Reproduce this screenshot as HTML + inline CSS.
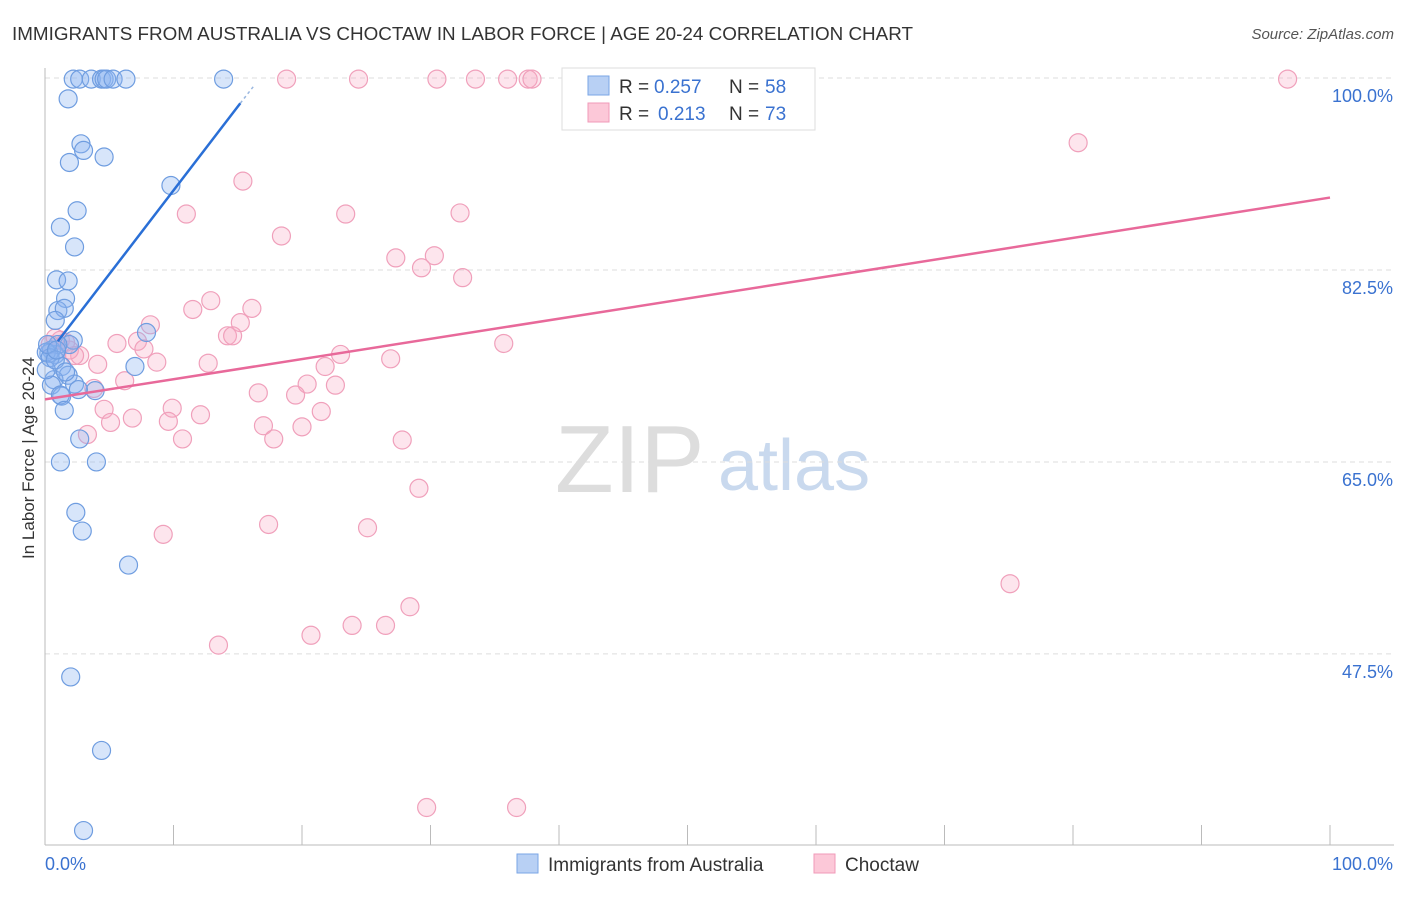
<!DOCTYPE html>
<html><head><meta charset="utf-8"><style>
body{margin:0;background:#fff;font-family:"Liberation Sans",sans-serif;}
svg text{font-family:"Liberation Sans",sans-serif;}
</style></head><body>
<svg id="chart" width="1406" height="892">
<text x="12" y="40" font-size="18" fill="#333" textLength="901" lengthAdjust="spacingAndGlyphs">IMMIGRANTS FROM AUSTRALIA VS CHOCTAW IN LABOR FORCE | AGE 20-24 CORRELATION CHART</text>
<text x="1394" y="39" font-size="15" fill="#555" font-style="italic" text-anchor="end">Source: ZipAtlas.com</text>
<text x="34" y="458" font-size="17" fill="#333" text-anchor="middle" transform="rotate(-90 34 458)">In Labor Force | Age 20-24</text>
<text x="555" y="492" font-size="96" fill="#ddd" font-family="Liberation Serif">ZIP</text>
<text x="718" y="490" font-size="72" fill="#c9d9ee">atlas</text>
<g id="grid"></g><g id="axes"></g><g id="pts"></g><g id="lines"></g>
<g>
<rect x="562" y="68" width="253" height="62" fill="#fff" stroke="#ddd"/>
<rect x="588" y="76" width="21" height="19" fill="#b8d0f4" stroke="#7aa6e6"/>
<rect x="588" y="103" width="21" height="19" fill="#fcc8d8" stroke="#f09ab8"/>
<text x="619" y="93" font-size="19" fill="#333">R =</text>
<text x="654" y="93" font-size="19" fill="#3a72d0">0.257</text>
<text x="729" y="93" font-size="19" fill="#333">N =</text>
<text x="765" y="93" font-size="19" fill="#3a72d0">58</text>
<text x="619" y="120" font-size="19" fill="#333">R =</text>
<text x="658" y="120" font-size="19" fill="#3a72d0">0.213</text>
<text x="729" y="120" font-size="19" fill="#333">N =</text>
<text x="765" y="120" font-size="19" fill="#3a72d0">73</text>
</g>
<g>
<rect x="517" y="854" width="21" height="19" fill="#b8d0f4" stroke="#7aa6e6"/>
<text x="548" y="871" font-size="19" fill="#333">Immigrants from Australia</text>
<rect x="814" y="854" width="21" height="19" fill="#fcc8d8" stroke="#f09ab8"/>
<text x="845" y="871" font-size="19" fill="#333">Choctaw</text>
</g>
</svg>
<script>
const yTicks=[100,82.5,65,47.5];
const yTickLabels=["100.0%","82.5%","65.0%","47.5%"];
const xTickVals=[0,10,20,30,40,50,60,70,80,90,100];
const blueX=[2.2,2.7,3.6,4.4,4.6,4.8,5.3,6.3,13.9,1.8,2.8,3.0,1.9,4.6,9.8,2.5,1.2,2.3,0.9,1.8,1.6,1.0,1.5,0.8,2.2,7.9,0.5,0.8,0.3,1.3,7.0,1.8,0.7,0.5,2.3,1.3,1.2,3.9,1.5,2.7,1.2,4.0,2.4,2.9,6.5,2.0,4.4,3.0,1.9,1.0,0.1,0.4,2.6,0.1,0.2,0.8,1.6,0.9];
const blueY=[99.9,99.9,99.9,99.9,99.9,99.9,99.9,99.9,99.9,98.1,94.0,93.4,92.3,92.8,90.2,87.9,86.4,84.6,81.6,81.5,79.9,78.8,79.0,77.9,76.1,76.8,75.2,74.8,74.9,73.7,73.7,72.9,72.5,72.0,72.1,71.0,71.1,71.5,69.7,67.1,65.0,65.0,60.4,58.7,55.6,45.4,38.7,31.4,75.7,75.7,75.0,74.5,71.6,73.4,75.7,74.3,73.2,75.2];
const pinkX=[18.8,24.4,30.5,33.5,36.0,37.6,37.9,96.7,80.4,15.4,11.0,23.4,32.3,18.4,27.3,30.3,29.3,32.5,12.9,16.1,11.5,8.2,15.2,14.2,14.6,7.2,5.6,35.7,7.7,8.7,12.7,23.0,26.9,21.8,4.1,2.7,1.9,1.2,6.2,20.4,22.6,3.8,16.6,19.5,9.9,4.6,21.5,12.1,6.8,9.6,5.1,17.0,20.0,10.7,17.8,27.8,3.3,29.1,17.4,25.1,9.2,75.1,28.4,23.9,26.5,20.7,13.5,29.7,36.7,0.4,0.8,1.6,2.3];
const pinkY=[99.9,99.9,99.9,99.9,99.9,99.9,99.9,99.9,94.1,90.6,87.6,87.6,87.7,85.6,83.6,83.8,82.7,81.8,79.7,79.0,78.9,77.5,77.7,76.5,76.5,76.0,75.8,75.8,75.3,74.1,74.0,74.8,74.4,73.7,73.9,74.7,75.2,76.1,72.4,72.1,72.0,71.7,71.3,71.1,69.9,69.8,69.6,69.3,69.0,68.7,68.6,68.3,68.2,67.1,67.1,67.0,67.5,62.6,59.3,59.0,58.4,53.9,51.8,50.1,50.1,49.2,48.3,33.5,33.5,75.7,76.3,75.9,74.7];
const blueLine=[[1.0,76.0],[15.2,97.7]];
const blueDash=[[15.2,97.7],[16.2,99.2]];
const pinkLine=[[0,70.7],[100,89.1]];
const NS="http://www.w3.org/2000/svg";
const sx=v=>45+v*12.85, sy=v=>78+(100-v)*10.97;
function mk(t,a,p){const e=document.createElementNS(NS,t);for(const k in a)e.setAttribute(k,a[k]);p.appendChild(e);return e;}
const grid=document.getElementById('grid'),axes=document.getElementById('axes'),pts=document.getElementById('pts'),lines=document.getElementById('lines');
yTicks.forEach((v,i)=>{
 const l=mk('line',{x1:45,x2:1394,y1:sy(v),y2:sy(v),stroke:'#ddd','stroke-dasharray':'5,4'},grid);
 
 
 const t=mk('text',{x:1393,y:sy(v)+24,'font-size':18,fill:'#3a72d0','text-anchor':'end'},grid);
 t.textContent=yTickLabels[i];
 
 
});
const ya=mk('line',{x1:45,x2:45,y1:68,y2:845,stroke:'#bbb'},axes);


const xa=mk('line',{x1:45,x2:1394,y1:845,y2:845,stroke:'#bbb'},axes);


xTickVals.forEach(v=>{
 const l=mk('line',{x1:sx(v),x2:sx(v),y1:825,y2:845,stroke:'#bbb'},axes);
 
 
});
const xl0=mk('text',{x:45,y:870,'font-size':18,fill:'#3a72d0'},axes);xl0.textContent='0.0%';


const xl1=mk('text',{x:1393,y:870,'font-size':18,fill:'#3a72d0','text-anchor':'end'},axes);xl1.textContent='100.0%';


pinkX.forEach((x,i)=>{
 const c=mk('circle',{cx:sx(x),cy:sy(pinkY[i]),r:9,fill:'rgba(248,170,195,0.3)',stroke:'#f0a0bb','stroke-width':1.2},pts);
 
 
});
blueX.forEach((x,i)=>{
 const c=mk('circle',{cx:sx(x),cy:sy(blueY[i]),r:9,fill:'rgba(140,180,240,0.35)',stroke:'#6f9de0','stroke-width':1.2},pts);
 
 
});
function ln(p,st,w,d,name){const l=mk('line',{x1:sx(p[0][0]),y1:sy(p[0][1]),x2:sx(p[1][0]),y2:sy(p[1][1]),stroke:st,'stroke-width':w},lines);if(d)l.setAttribute('stroke-dasharray',d);
 
 }
ln(pinkLine,'#e8699a',2.5,null,'trend-line-choctaw');
ln(blueLine,'#2a6fd6',2.5,null,'trend-line-australia');
ln(blueDash,'#9bb8e0',1.5,'3,3','trend-line-australia-extension');
</script>
</body></html>
